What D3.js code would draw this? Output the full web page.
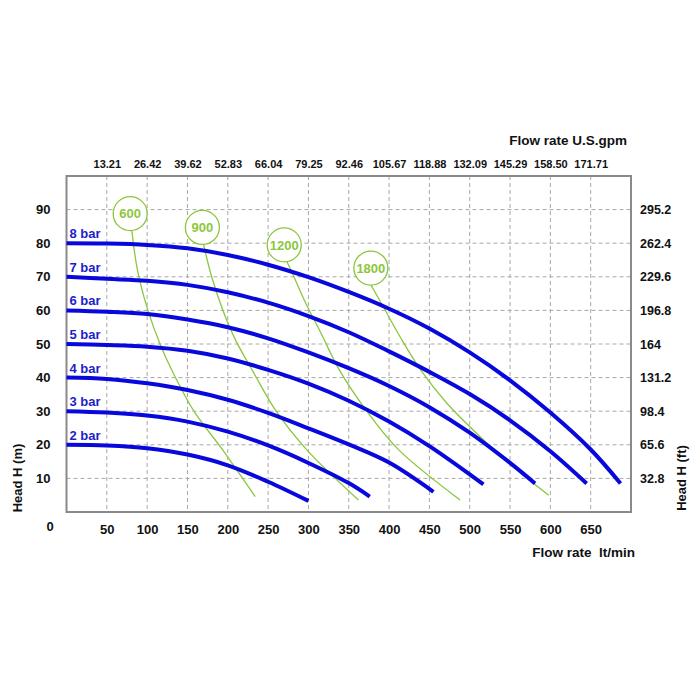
<!DOCTYPE html>
<html>
<head>
<meta charset="utf-8">
<script src="https://cdn.jsdelivr.net/npm/d3@7"></script>
<style>
  html, body { margin: 0; padding: 0; background: #ffffff; }
  svg { display: block; font-family: "Liberation Sans", Arial, sans-serif; }
</style>
</head>
<body>
<svg id="chart" width="700" height="700"></svg>
<script>
// ---- data ----
const flowTicks = [50, 100, 150, 200, 250, 300, 350, 400, 450, 500, 550, 600, 650];
const gpmLabels = ["13.21", "26.42", "39.62", "52.83", "66.04", "79.25", "92.46", "105.67", "118.88", "132.09", "145.29", "158.50", "171.71"];
const headTicks = [10, 20, 30, 40, 50, 60, 70, 80, 90];
const feetLabels = ["32.8", "65.6", "98.4", "131.2", "164", "196.8", "229.6", "262.4", "295.2"];

const barNames = ["2 bar", "3 bar", "4 bar", "5 bar", "6 bar", "7 bar", "8 bar"];
const bar2 = [[0, 20], [50, 19.8], [100, 19], [150, 17.1], [200, 13.9], [250, 9], [300, 3.3]];
const bar3 = [[0, 30], [50, 29.6], [100, 28.7], [150, 26.9], [200, 23.9], [250, 19.8], [300, 14.6], [350, 8.6], [376, 4.6]];
const bar4 = [[0, 40], [50, 39.6], [100, 38.3], [150, 36.3], [200, 33.4], [250, 29.5], [300, 24.9], [350, 20.1], [400, 14.7], [455, 6]];
const bar5 = [[0, 50], [50, 49.7], [100, 49.2], [150, 48], [200, 45.7], [250, 42.3], [300, 38.2], [350, 33.1], [400, 26.9], [450, 19.6], [500, 11.2], [517, 8.2]];
const bar6 = [[0, 60], [50, 59.6], [100, 58.9], [150, 57.3], [200, 55], [250, 51.7], [300, 47.5], [350, 42.8], [400, 37.5], [450, 31.2], [500, 23.6], [550, 14.6], [581, 8.5]];
const bar7 = [[0, 70], [50, 69.4], [100, 68.8], [150, 67.6], [200, 65.4], [250, 62.3], [300, 58.3], [350, 53.5], [400, 47.8], [450, 41.7], [500, 35.1], [550, 27.3], [600, 18.1], [645, 8.5]];
const bar8 = [[0, 80], [50, 79.9], [100, 79.5], [150, 78.5], [200, 76.5], [250, 73.6], [300, 69.9], [350, 65.5], [400, 60.5], [450, 54.6], [500, 47.5], [550, 39.2], [600, 29.6], [650, 18.6], [687, 8.5]];

const rpmNames = ["600", "900", "1200", "1800"];
const rpmLabelPos = [[79, 88.8], [168.5, 84.7], [270, 79.5], [377.4, 72.6]];
const rpm600 = [[81, 83.8], [88, 72], [101, 60], [116, 50], [132, 41.5], [158, 30], [192, 19], [234, 4.6]];
const rpm900 = [[170, 79.6], [180, 70], [194, 60], [210, 51], [232, 41.5], [260, 30], [298, 18.5], [362, 3.6]];
const rpm1200 = [[272, 75.2], [282, 70], [297, 62], [315, 53.5], [339, 42], [374, 29.5], [412, 18.5], [488, 3.6]];
const rpm1800 = [[377, 67.8], [393, 61], [414, 52], [440, 42], [472, 32.3], [513, 22.4], [554, 13.5], [598, 5]];

// ---- layout ----
const L = 66.5, R = 631, T = 176, B = 512;
const blue = "#0808dc", labelBlue = "#1e1ec8", green = "#8cc63e";

const svg = d3.select("#chart");
const x = d3.scaleLinear().domain([0, 700]).range([L, R]);
const y = d3.scaleLinear().domain([0, 100]).range([B, T]);

// grid
const grid = svg.append("g").attr("stroke", "#a8a8a8").attr("stroke-width", 1).attr("stroke-dasharray", "4,3");
grid.selectAll("line.v").data(flowTicks).join("line")
  .attr("x1", d => x(d)).attr("x2", d => x(d)).attr("y1", T).attr("y2", B);
grid.selectAll("line.h").data(headTicks).join("line")
  .attr("x1", L).attr("x2", R).attr("y1", d => y(d)).attr("y2", d => y(d));

// frame
svg.append("rect").attr("x", L).attr("y", T).attr("width", R - L).attr("height", B - T)
  .attr("fill", "none").attr("stroke", "#8a8a8a").attr("stroke-width", 2);

// axes (text only)
const bottomAxis = d3.axisBottom(x).tickValues(flowTicks).tickSize(0).tickPadding(9);
const gB = svg.append("g").attr("transform", `translate(0,${B + 4})`).call(bottomAxis);
const topAxis = d3.axisTop(x).tickValues(flowTicks).tickSize(0).tickPadding(8)
  .tickFormat((d, i) => gpmLabels[i]);
const gT = svg.append("g").attr("transform", `translate(0,${T})`).call(topAxis);
const leftAxis = d3.axisLeft(y).tickValues(headTicks).tickSize(0).tickPadding(16);
const gL = svg.append("g").attr("transform", `translate(${L},0)`).call(leftAxis);
const rightAxis = d3.axisRight(y).tickValues(headTicks).tickSize(0).tickPadding(9)
  .tickFormat((d, i) => feetLabels[i]);
const gR = svg.append("g").attr("transform", `translate(${R},0)`).call(rightAxis);
[gB, gT, gL, gR].forEach(g => {
  g.select(".domain").remove();
  g.selectAll("text").attr("font-family", "Liberation Sans, Arial, sans-serif")
    .attr("font-weight", "bold").attr("fill", "#111");
});
gB.selectAll("text").attr("font-size", 13);
gL.selectAll("text").attr("font-size", 13);
gR.selectAll("text").attr("font-size", 12.5);
gT.selectAll("text").attr("font-size", 11);

// "0" corner label
svg.append("text").attr("x", 50).attr("y", 531).attr("text-anchor", "middle")
  .attr("font-size", 13).attr("font-weight", "bold").attr("fill", "#111").text("0");

// titles
svg.append("text").attr("x", 627).attr("y", 145).attr("text-anchor", "end")
  .attr("font-size", 13.5).attr("font-weight", "bold").attr("fill", "#111").text("Flow rate U.S.gpm");
svg.append("text").attr("x", 635).attr("y", 557).attr("text-anchor", "end")
  .attr("font-size", 13.5).attr("font-weight", "bold").attr("fill", "#111")
  .attr("xml:space", "preserve").style("white-space", "pre").text("Flow rate  lt/min");
svg.append("text").attr("transform", "translate(22,478) rotate(-90)").attr("text-anchor", "middle")
  .attr("font-size", 13).attr("font-weight", "bold").attr("fill", "#111").text("Head H (m)");
svg.append("text").attr("transform", "translate(686,478) rotate(-90)").attr("text-anchor", "middle")
  .attr("font-size", 13).attr("font-weight", "bold").attr("fill", "#111").text("Head H (ft)");

// green rpm curves
const rpmSeries = [rpm600, rpm900, rpm1200, rpm1800];
const line = d3.line().x(d => x(d[0])).y(d => y(d[1])).curve(d3.curveCatmullRom.alpha(0.5));
svg.append("g").selectAll("path").data(rpmSeries).join("path")
  .attr("d", line).attr("fill", "none").attr("stroke", green).attr("stroke-width", 1.3);

const rg = svg.append("g").selectAll("g").data(rpmNames).join("g")
  .attr("transform", (d, i) => `translate(${x(rpmLabelPos[i][0])},${y(rpmLabelPos[i][1])})`);
rg.append("circle").attr("r", 17).attr("fill", "#fff").attr("stroke", green).attr("stroke-width", 1.3);
rg.append("text").attr("text-anchor", "middle").attr("dy", "0.36em")
  .attr("font-size", 13).attr("font-weight", "bold").attr("fill", green).text(d => d);

// blue pressure curves
const barSeries = [bar2, bar3, bar4, bar5, bar6, bar7, bar8];
svg.append("g").selectAll("path").data(barSeries).join("path")
  .attr("d", line).attr("fill", "none").attr("stroke", blue).attr("stroke-width", 4);

svg.append("g").selectAll("text").data(barNames).join("text")
  .attr("x", x(0) + 3).attr("y", (d, i) => y(barSeries[i][0][1]) - 5)
  .attr("font-size", 13).attr("font-weight", "bold").attr("fill", labelBlue).text(d => d);
</script>
</body>
</html>
